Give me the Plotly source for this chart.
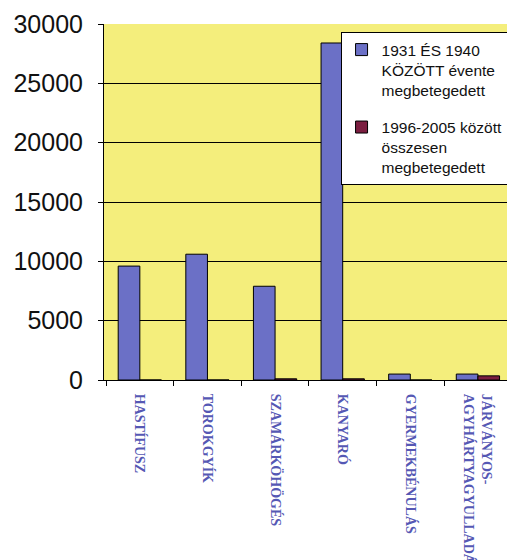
import plotly.graph_objects as go

categories = ["HASTÍFUSZ", "TOROKGYÍK", "SZAMÁRKÖHÖGÉS", "KANYARÓ",
              "GYERMEKBÉNULÁS", "JÁRVÁNYOS-<br>AGYHÁRTYAGYULLADÁS"]
series1_name = "1931 ÉS 1940<br>KÖZÖTT évente<br>megbetegedett"
series1 = [9600, 10600, 7900, 28400, 500, 500]
series2_name = "1996-2005 között<br>összesen<br>megbetegedett"
series2 = [0, 0, 100, 100, 0, 350]
y_ticks = [0, 5000, 10000, 15000, 20000, 25000, 30000]

SANS = "Liberation Sans, Arial, sans-serif"

fig = go.Figure()
fig.add_trace(go.Bar(x=categories, y=series1, name=series1_name, legendgroup="a",
                     marker=dict(color="#6B70C6", line=dict(color="#000000", width=1))))
fig.add_trace(go.Bar(x=categories, y=series2, name=series2_name, legendgroup="b",
                     marker=dict(color="#7B1E40", line=dict(color="#000000", width=1))))

fig.update_layout(
    width=507, height=560,
    margin=dict(l=104, r=0, t=24, b=180, pad=0, autoexpand=False),
    paper_bgcolor="#FFFFFF",
    plot_bgcolor="#F4EE7C",
    barmode="group", bargap=0.36, bargroupgap=0,
    showlegend=True,
    legend=dict(x=0.587, y=0.9775, xanchor="left", yanchor="top",
                bgcolor="#FFFFFF", bordercolor="#000000", borderwidth=1,
                font=dict(family=SANS, size=15.5, color="#111111"),
                itemwidth=30, valign="top", tracegroupgap=14),
    xaxis=dict(type="category", range=[-0.53, 5.43], automargin=False,
               showline=True, linecolor="#000000", linewidth=1,
               ticks="outside", tickson="boundaries", ticklen=5, tickcolor="#000000",
               tickangle=90, ticklabelstandoff=10,
               tickfont=dict(family="Liberation Serif, Times New Roman, serif", size=14,
                             color="#5558B4", weight="bold"),
               showgrid=False),
    yaxis=dict(range=[0, 30000], tickvals=y_ticks, ticktext=[str(v) for v in y_ticks],
               automargin=False,
               showline=True, linecolor="#000000", linewidth=1,
               ticks="outside", ticklen=5, tickcolor="#000000",
               ticklabelstandoff=10,
               tickfont=dict(family=SANS, size=25, color="#111111"),
               showgrid=True, gridcolor="#000000", gridwidth=1,
               zeroline=False),
)

fig.write_html("out.html")
